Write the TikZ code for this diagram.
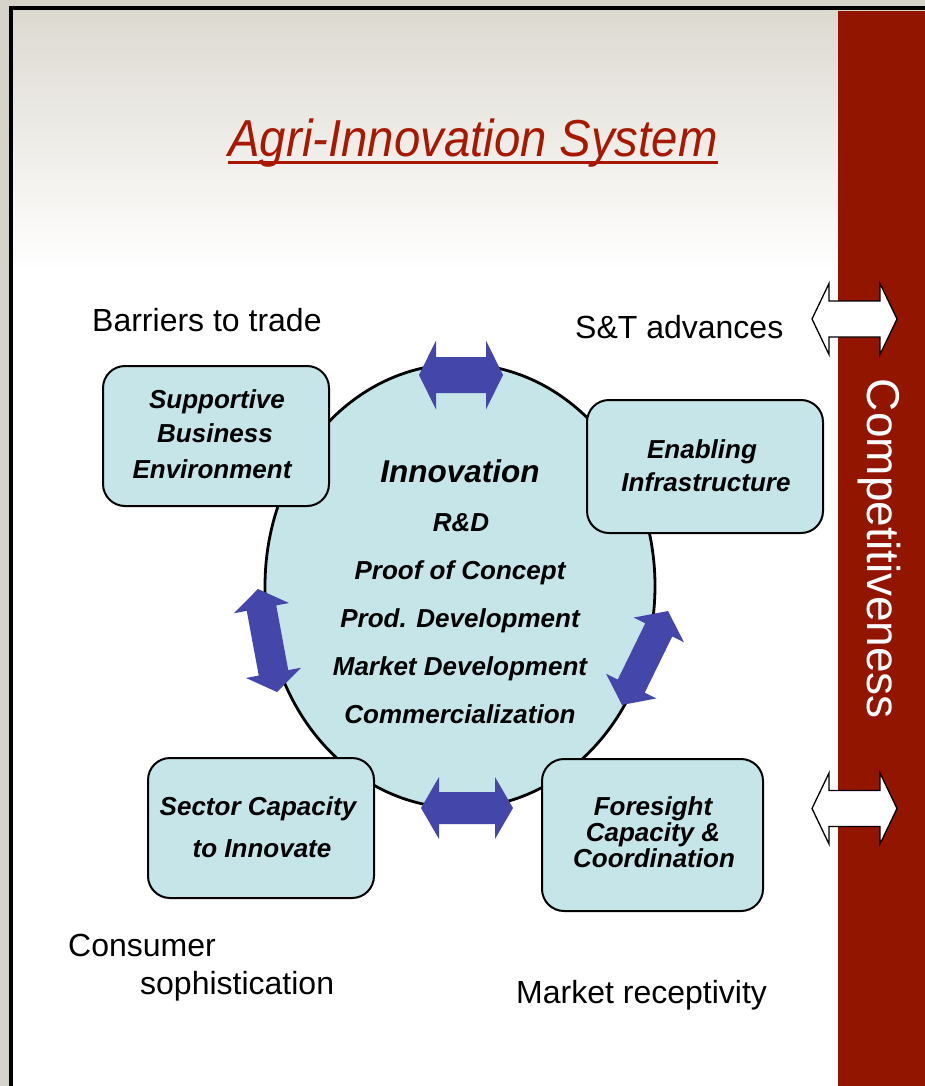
\documentclass[tikz,border=0pt]{standalone}
\usepackage{fontspec}
\usetikzlibrary{shapes.geometric}
\newfontfamily\arial{Liberation Sans}
\definecolor{cyanfill}{HTML}{C5E5E8}
\definecolor{blueA}{HTML}{4447A9}
\definecolor{barred}{HTML}{921500}
\definecolor{titlered}{HTML}{A81800}
\definecolor{bggrey}{HTML}{D6D3CA}
\definecolor{bgtex}{HTML}{DCD9D0}
\newcommand{\lblfont}{\arial\fontsize{32}{38}\selectfont}
\newcommand{\bifont}{\arial\bfseries\itshape\fontsize{26}{30}\selectfont}
\newcommand{\bigbifont}{\arial\bfseries\itshape\fontsize{31.5}{36}\selectfont}
\newcommand{\ttlfont}{\arial\itshape\fontsize{52}{60}\selectfont}
\newcommand{\compfont}{\arial\fontsize{46}{52}\selectfont}
\tikzset{
  pics/dblarrow/.style args={#1/#2/#3/#4}{code={
    \path[pic actions] (-#1,0) -- (-#1+#2,#3) -- (-#1+#2,#4) -- (#1-#2,#4) -- (#1-#2,#3) -- (#1,0)
      -- (#1-#2,-#3) -- (#1-#2,-#4) -- (-#1+#2,-#4) -- (-#1+#2,-#3) -- cycle;
  }},
  boxshape/.style={draw=black, line width=2pt, fill=cyanfill, rounded corners=22pt, inner sep=0},
  lbl/.style={font=\lblfont, inner sep=0, anchor=base west},
  bi/.style={font=\bifont, inner sep=0, anchor=base},
  bluearrow/.style={fill=blueA},
  whitearrow/.style={fill=white, draw=black, line width=1.3pt, line join=miter},
}
\begin{document}
\begin{tikzpicture}[x=1pt,y=-1pt]
\useasboundingbox (0,0) rectangle (925,1086);
% background
\fill[bggrey] (0,0) rectangle (925,1086);
\shade[top color=bgtex, bottom color=white] (11,9) rectangle (838,270);
\fill[white] (11,269) rectangle (838,1086);
\fill[barred] (838,11) rectangle (925,1086);
\draw[black, line width=4pt] (11,1086) -- (11,8.5) -- (925,8.5);

% title
\node[font=\ttlfont, text=titlered, inner sep=0, anchor=base] (ttl) at (473,157) {\scalebox{0.91}[1]{Agri-Innovation System}};
\draw[titlered, line width=3.6pt] ([yshift=-5.5pt]ttl.base west) -- ([yshift=-5.5pt]ttl.base east);

% competitiveness
\node[font=\compfont, text=white, rotate=-90, inner sep=0] (comp) at (879,549) {Competitiveness};

% central ellipse
\node[ellipse, draw=black, line width=2.8pt, fill=cyanfill, minimum width=390pt, minimum height=444pt, inner sep=0] (inno) at (460,586) {};

% boxes
\node[boxshape, minimum width=226pt, minimum height=140pt] (sbe) at (216,436) {};
\node[boxshape, minimum width=236pt, minimum height=133pt] (ei) at (705,466.5) {};
\node[boxshape, minimum width=226pt, minimum height=140pt] (sci) at (261,828) {};
\node[boxshape, minimum width=221pt, minimum height=152pt] (fcc) at (652.5,835) {};

% ellipse text
\node[font=\bigbifont, inner sep=0, anchor=base] (t0) at (460,482) {Innovation};
\node[bi] (t1) at (461,531) {R\&D};
\node[bi] (t2) at (460,579) {Proof of Concept};
\node[bi] (t3) at (460,627) {Prod. Development};
\node[bi] (t4) at (460,675) {Market Development};
\node[bi] (t5) at (460,723) {Commercialization};

% box texts
\node[bi] (sbe1) at (217,408) {Supportive};
\node[bi] (sbe2) at (215,442) {Business};
\node[bi] (sbe3) at (212,478) {Environment};
\node[bi] (ei1) at (702,458) {Enabling};
\node[bi] (ei2) at (706,491) {Infrastructure};
\node[bi] (sci1) at (258,815) {Sector Capacity};
\node[bi] (sci2) at (262,857) {to Innovate};
\node[bi] (fcc1) at (653,815) {Foresight};
\node[bi] (fcc2) at (653,841) {Capacity \&};
\node[bi] (fcc3) at (654,867) {Coordination};

% plain labels
\node[lbl] (l1) at (92,331) {Barriers to trade};
\node[lbl] (l2) at (575,338) {S\&T advances};
\node[lbl] (l3) at (68,956) {Consumer};
\node[lbl] (l4) at (140,994) {sophistication};
\node[lbl] (l5) at (516,1003) {Market receptivity};

% blue double arrows
\pic[bluearrow] at (461,375) {dblarrow=42/17/34.5/18};
\pic[bluearrow] at (467,808) {dblarrow=46/18/31/16};
\pic[bluearrow, rotate=-79.5] at (267.5,640.5) {dblarrow=52.4/19.5/28/15};
\pic[bluearrow, rotate=63.9] at (645,658) {dblarrow=52.3/21/28/15};

% white double arrows
\pic[whitearrow] at (854.5,319) {dblarrow=42.5/17/35.5/18};
\pic[whitearrow] at (854.5,808.5) {dblarrow=42.5/17/35.5/18};
\end{tikzpicture}
\end{document}
